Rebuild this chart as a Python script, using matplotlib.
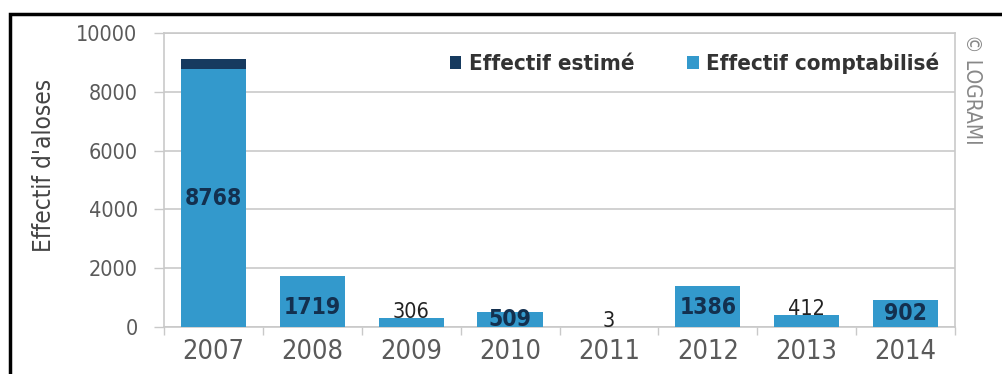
import matplotlib
matplotlib.use("Agg")
import matplotlib.pyplot as plt
import numpy as np
from matplotlib.patches import Rectangle

years = ["2007", "2008", "2009", "2010", "2011", "2012", "2013", "2014"]
counted = [8768, 1719, 306, 509, 3, 1386, 412, 902]
estimated = [340, 0, 0, 0, 0, 0, 0, 0]
yticks = [0, 2000, 4000, 6000, 8000, 10000]

COUNTED_COLOR = "#3399cc"
ESTIMATED_COLOR = "#163a5f"
LABEL_DARK = "#13304f"
GRID = "#c9c9c9"
TEXT = "#5a5a5a"

plt.rcParams["font.family"] = ["DejaVu Sans"]
plt.rcParams["font.stretch"] = "condensed"

fig = plt.figure(figsize=(10.02, 3.74), dpi=100)
ax = fig.add_axes([0.1637, 0.1257, 0.9531 - 0.1637, 0.9118 - 0.1257])

x = np.arange(len(years))
counted_arr = np.array(counted)
estimated_arr = np.array(estimated)

ax.bar(x, counted_arr, width=0.66, color=COUNTED_COLOR, label="Effectif comptabilisé", zorder=3)
ax.bar(x, estimated_arr, width=0.66, bottom=counted_arr, color=ESTIMATED_COLOR,
       label="Effectif estimé", zorder=3)

# value labels: inside the bar for the larger counts, above it for the small ones
for xi, v in zip(x, counted_arr):
    if v >= 500:
        ax.text(xi, min(v / 2, 650) if v < 5000 else v / 2, f"{v}", ha="center",
                va="center", fontsize=16.5, fontweight="bold", color=LABEL_DARK, zorder=4)
    else:
        ax.text(xi, v - 150, f"{v}", ha="center", va="bottom", fontsize=15.5,
                color="#222222", zorder=4)

ax.set_xlim(-0.5, len(years) - 0.5)
ax.set_ylim(0, 10000)
ax.set_yticks(yticks)
ax.set_yticklabels([str(t) for t in yticks])
ax.tick_params(axis="y", length=7, width=1, color=GRID, labelsize=15.5, labelcolor=TEXT, pad=12)
ax.set_xticks(x)
ax.set_xticklabels(years)
ax.set_xticks(np.arange(len(years) + 1) - 0.5, minor=True)
ax.tick_params(axis="x", which="major", length=0, labelsize=19.5, labelcolor=TEXT, pad=9)
ax.tick_params(axis="x", which="minor", length=6, width=1, color=GRID)
ax.yaxis.grid(True, color=GRID, linewidth=1.2, zorder=0)
for s in ax.spines.values():
    s.set_color(GRID)
    s.set_linewidth(1.2)

ax.set_ylabel("Effectif d'aloses", fontsize=17.5, color="#444444")
ax.yaxis.set_label_coords(-0.137, 0.55)

handles, labels = ax.get_legend_handles_labels()
leg = ax.legend(handles[::-1], labels[::-1], loc="upper right", ncol=2, frameon=False,
                prop={"size": 16, "weight": "bold", "stretch": "condensed"},
                handlelength=0.5, handleheight=0.5, handletextpad=0.35,
                columnspacing=2.4, bbox_to_anchor=(1.0, 0.985), borderaxespad=0.3)
for t in leg.get_texts():
    t.set_color("#333333")

fig.text(0.970, 0.91, "© LOGRAMI", rotation=270, ha="center", va="top",
         fontsize=15, color="#888888")

# black frame along the top and left edges
fig.patches.append(Rectangle((10 / 1002, -0.2), 1.2, 1.2 - 14 / 374,
                             transform=fig.transFigure, fill=False,
                             edgecolor="black", linewidth=2.5, zorder=10))

fig.savefig("out.png", dpi=100, facecolor="white")
